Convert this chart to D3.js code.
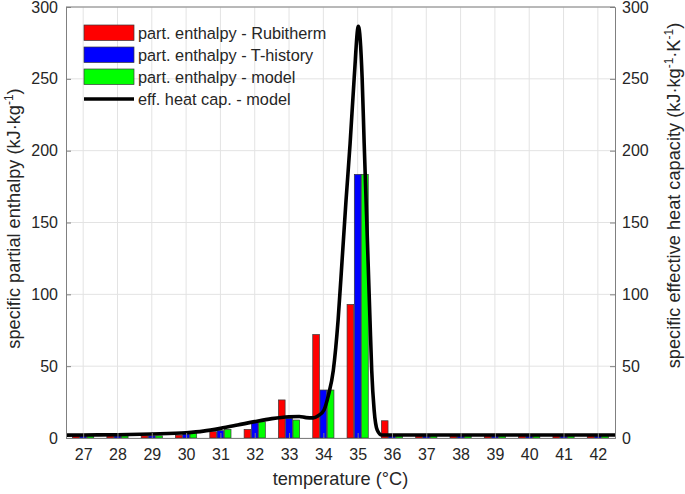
<!DOCTYPE html>
<html lang="en">
  <head>
    <meta charset="UTF-8" />
    <title>Partial enthalpy and effective heat capacity</title>
    <script src="https://cdn.jsdelivr.net/npm/d3@7"></script>
    <style>
      body {
        margin: 0;
        background: #fff;
        font-family: "Liberation Sans", Arial, sans-serif;
      }
      .tick-label {
        font-size: 16px;
        fill: #262626;
      }
      .axis-title {
        font-size: 18.2px;
        fill: #262626;
      }
      .legend-text {
        font-size: 16.3px;
        fill: #262626;
      }
    </style>
  </head>
  <body>
    <div id="chart"></div>
    <script>
      // temperatures (°C) of the bar groups
      const temps = [27, 28, 29, 30, 31, 32, 33, 34, 35, 36, 37, 38, 39, 40, 41, 42];
      // partial enthalpy per 1 K interval (kJ/kg)
      const rubitherm = [1.5, 1.5, 1.5, 2, 4.4, 6, 26.5, 72, 93, 12, 1.5, 1.5, 1.5, 1.5, 1.5, 1.5];
      const tHistory = [1.5, 1.5, 1.5, 2.8, 5.1, 10.6, 13.7, 33.4, 183.5, 1.5, 1.5, 1.5, 1.5, 1.5, 1.5, 1.5];
      const model = [1.5, 1.5, 1.5, 3.7, 6, 11.3, 12.5, 33.4, 183.5, 1.5, 1.5, 1.5, 1.5, 1.5, 1.5, 1.5];

      // effective heat capacity of the model (kJ/kg/K)
      const cpTemp = [26.5, 27, 28, 29, 30, 30.5, 31, 31.5, 32, 32.5, 33, 33.3, 33.5, 33.7, 33.85,
        34.02, 34.15, 34.29, 34.43, 34.55, 34.66, 34.78, 34.9, 35.02, 35.13, 35.19, 35.26, 35.36,
        35.41, 35.48, 35.57, 35.7, 36, 37, 38, 39, 40, 41, 42, 42.5];
      const cpValue = [2.0, 2.1, 2.3, 2.8, 3.7, 4.8, 6.7, 9.0, 11.4, 13.5, 14.8, 15.0, 14.2, 14.0, 15.5,
        19.5, 30, 47, 82, 125, 165, 205, 251, 286.5, 251, 205, 155, 82,
        47, 19.5, 5.6, 2.1, 2.1, 2.1, 2.1, 2.1, 2.1, 2.1, 2.1, 2.1];

      const yTicks = [0, 50, 100, 150, 200, 250, 300];
      const seriesNames = [
        "part. enthalpy - Rubitherm",
        "part. enthalpy - T-history",
        "part. enthalpy - model",
      ];
      const seriesColors = ["#ff0000", "#0000ff", "#00ff00"];
      const lineName = "eff. heat cap. - model";

      const W = 685, H = 494;
      const margin = { top: 7, right: 70, bottom: 56, left: 66 };
      const width = W - margin.left - margin.right,
        height = H - margin.top - margin.bottom;

      const svg = d3
        .select("#chart")
        .append("svg")
        .attr("width", W)
        .attr("height", H);

      const g = svg
        .append("g")
        .attr("transform", "translate(" + margin.left + "," + margin.top + ")");

      const x = d3.scaleLinear().domain([26.5, 42.5]).range([0, width]);
      const y = d3.scaleLinear().domain([0, 300]).range([height, 0]);
      const y2 = d3.scaleLinear().domain([0, 300]).range([height, 0]);

      // sub-band for the three bars of a group
      const xSub = d3
        .scaleBand()
        .domain(d3.range(3))
        .range([-10.6, 10.6])
        .paddingInner(0.08);

      // grid
      g.append("g")
        .selectAll("line")
        .data(temps)
        .join("line")
        .attr("x1", (d) => x(d))
        .attr("x2", (d) => x(d))
        .attr("y1", 0)
        .attr("y2", height)
        .attr("stroke", "#e3e3e3")
        .attr("stroke-width", 1);

      g.append("g")
        .selectAll("line")
        .data(yTicks)
        .join("line")
        .attr("x1", 0)
        .attr("x2", width)
        .attr("y1", (d) => y(d))
        .attr("y2", (d) => y(d))
        .attr("stroke", "#e3e3e3")
        .attr("stroke-width", 1);

      // bars
      const series = [rubitherm, tHistory, model];
      const barData = [];
      temps.forEach((t, i) => {
        series.forEach((s, k) => barData.push({ t: t, k: k, v: s[i] }));
      });

      g.append("g")
        .selectAll("rect")
        .data(barData)
        .join("rect")
        .attr("x", (d) => x(d.t) + xSub(d.k))
        .attr("y", (d) => y(d.v))
        .attr("width", xSub.bandwidth())
        .attr("height", (d) => y(0) - y(d.v))
        .attr("fill", (d) => seriesColors[d.k])
        .attr("stroke", "#3a3a3a")
        .attr("stroke-width", 0.7);

      // effective heat capacity line
      const cpData = cpTemp.map((t, i) => ({ t: t, v: cpValue[i] }));
      const line = d3
        .line()
        .curve(d3.curveMonotoneX)
        .x((d) => x(d.t))
        .y((d) => y2(d.v));

      g.append("path")
        .datum(cpData)
        .attr("fill", "none")
        .attr("stroke", "#000")
        .attr("stroke-width", 3.6)
        .attr("stroke-linejoin", "round")
        .attr("d", line);

      // axes (box with inward ticks)
      const axisColor = "#808080";
      const left = g.append("g").call(d3.axisLeft(y).tickValues(yTicks).tickSize(-5).tickPadding(8));
      const right = g
        .append("g")
        .attr("transform", "translate(" + width + ",0)")
        .call(d3.axisRight(y2).tickValues(yTicks).tickSize(-5).tickPadding(7));
      const bottom = g
        .append("g")
        .attr("transform", "translate(0," + height + ")")
        .call(d3.axisBottom(x).tickValues(temps).tickFormat(d3.format("d")).tickSize(-5).tickPadding(11));

      [left, right, bottom].forEach((ax) => {
        ax.select(".domain").attr("stroke", axisColor);
        ax.selectAll(".tick line").attr("stroke", axisColor);
        ax.selectAll(".tick text")
          .attr("class", "tick-label")
          .attr("font-family", null)
          .attr("font-size", null)
          .attr("fill", "#262626");
      });

      g.append("line")
        .attr("x1", 0)
        .attr("x2", width)
        .attr("y1", 0)
        .attr("y2", 0)
        .attr("stroke", axisColor);

      // axis titles
      g.append("text")
        .attr("class", "axis-title")
        .attr("x", x(34.5))
        .attr("y", height + 47)
        .attr("text-anchor", "middle")
        .text("temperature (°C)");

      const yl = g
        .append("text")
        .attr("class", "axis-title")
        .attr("transform", "translate(" + (-46) + "," + (height / 2 - 4) + ") rotate(-90)")
        .attr("text-anchor", "middle");
      yl.append("tspan").text("specific partial enthalpy (kJ·kg");
      yl.append("tspan").attr("dy", -7).attr("font-size", 12).text("-1");
      yl.append("tspan").attr("dy", 7).text(")");

      const yr = g
        .append("text")
        .attr("class", "axis-title")
        .attr("transform", "translate(" + (width + 65) + "," + (height / 2 - 27) + ") rotate(-90)")
        .attr("text-anchor", "middle");
      yr.append("tspan").text("specific effective heat capacity (kJ·kg");
      yr.append("tspan").attr("dy", -7).attr("font-size", 12).text("-1");
      yr.append("tspan").attr("dy", 7).text("·K");
      yr.append("tspan").attr("dy", -7).attr("font-size", 12).text("-1");
      yr.append("tspan").attr("dy", 7).text(")");

      // legend
      const legend = g.append("g").attr("transform", "translate(18,18)");
      const rowH = 22;
      seriesNames.forEach((name, i) => {
        const row = legend.append("g").attr("transform", "translate(0," + i * rowH + ")");
        row.append("rect")
          .attr("x", 0)
          .attr("y", 0)
          .attr("width", 50)
          .attr("height", 15.5)
          .attr("fill", seriesColors[i])
          .attr("stroke", "#3a3a3a")
          .attr("stroke-width", 0.7);
        row.append("text")
          .attr("class", "legend-text")
          .attr("x", 54)
          .attr("y", 8)
          .attr("dy", "0.35em")
          .text(name);
      });
      const lrow = legend.append("g").attr("transform", "translate(0," + 3 * rowH + ")");
      lrow.append("line")
        .attr("x1", 0)
        .attr("x2", 50)
        .attr("y1", 8)
        .attr("y2", 8)
        .attr("stroke", "#000")
        .attr("stroke-width", 3.6);
      lrow.append("text")
        .attr("class", "legend-text")
        .attr("x", 54)
        .attr("y", 8)
        .attr("dy", "0.35em")
        .text(lineName);
    </script>
  </body>
</html>
